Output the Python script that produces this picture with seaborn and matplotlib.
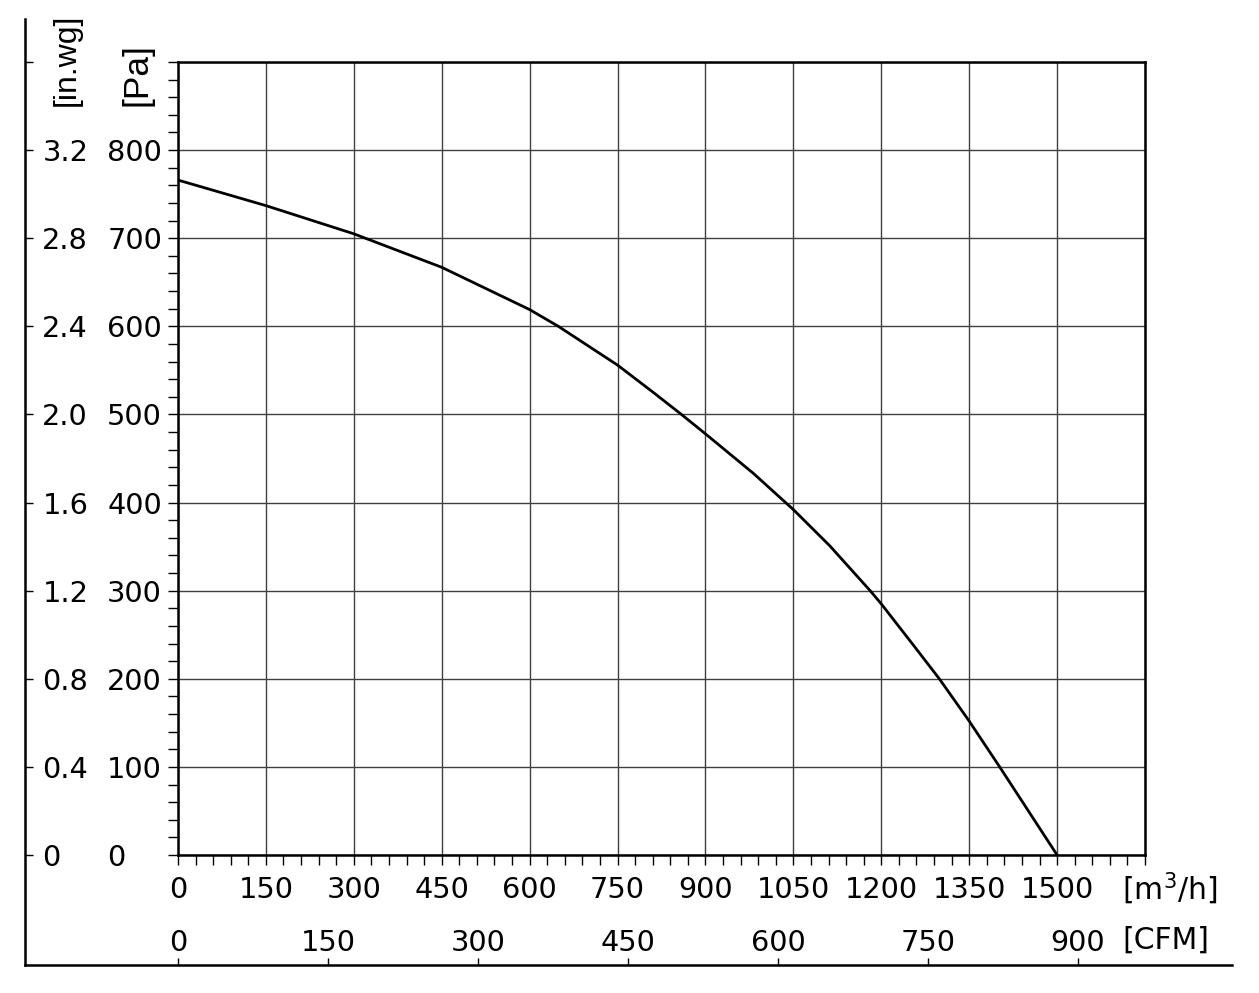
import numpy as np
import pandas as pd
from matplotlib import pyplot as plt
from matplotlib.ticker import MultipleLocator
import seaborn as sns

# fan curve
flow = [0, 150, 300, 450, 600, 649, 750, 811, 859, 900, 982, 1050, 1112,
        1181, 1200, 1255, 1299, 1350, 1402, 1500]
pressure = [766, 737, 705, 667, 619, 600, 556, 525, 500, 478, 433, 392, 351,
            300, 285, 238, 200, 152, 100, 0]

flow_ticks = list(range(0, 1651, 150))
flow_labels = [str(v) for v in flow_ticks[:-1]] + ['']
pa_ticks = list(range(0, 901, 100))
pa_labels = [str(v) for v in pa_ticks[:-1]] + ['']
inwg_ticks = [0, 0.4, 0.8, 1.2, 1.6, 2.0, 2.4, 2.8, 3.2, 3.6]
inwg_labels = ['0', '0.4', '0.8', '1.2', '1.6', '2.0', '2.4', '2.8', '3.2', '']
cfm_ticks = [0, 150, 300, 450, 600, 750, 900]
cfm_labels = [str(v) for v in cfm_ticks]

PA_PER_INWG = 250.0
M3H_PER_CFM = 1.706

sns.set_style('white')
plt.rcParams['font.family'] = ['DejaVu Sans']
plt.rcParams['text.color'] = 'black'
plt.rcParams['xtick.color'] = 'black'
plt.rcParams['ytick.color'] = 'black'
plt.rcParams['xtick.labelcolor'] = 'black'
plt.rcParams['ytick.labelcolor'] = 'black'

W, H = 1259, 993
FS = 20.7
fig = plt.figure(figsize=(W / 100, H / 100), dpi=100)

# outer frame (left and bottom lines)
frame = fig.add_axes([25 / W, 1 - 965 / H, (1232 - 25) / W, (965 - 19) / H])
frame.patch.set_visible(False)
for s in ['top', 'right']:
    frame.spines[s].set_visible(False)
for s in ['left', 'bottom']:
    frame.spines[s].set_color('black')
    frame.spines[s].set_linewidth(1.8)
frame.set_xticks([])
frame.set_yticks([])

ax = fig.add_axes([178 / W, 1 - 855 / H, 967 / W, 793 / H])
ax.patch.set_visible(False)

df = pd.DataFrame({'flow': flow, 'pressure': pressure})
sns.lineplot(data=df, x='flow', y='pressure', ax=ax, color='black', lw=2.0,
             sort=False, zorder=5)

ax.set_xlim(0, 1650)
ax.set_ylim(0, 900)
ax.set_xlabel('')
ax.set_ylabel('')

ax.set_xticks(flow_ticks, flow_labels)
ax.set_yticks(pa_ticks, pa_labels)
ax.xaxis.set_minor_locator(MultipleLocator(30))
ax.yaxis.set_minor_locator(MultipleLocator(20))
ax.grid(True, which='major', color='#404040', lw=1.0)

for s in ax.spines.values():
    s.set_color('black')
    s.set_linewidth(1.8)

ax.tick_params(which='both', direction='out', length=7.5, width=1.0, color='black',
               bottom=True, left=True, top=False, right=False)
ax.tick_params(axis='x', labelsize=FS, pad=7.5)
ax.tick_params(axis='y', labelsize=FS, pad=43.5)
for lab in ax.get_yticklabels():
    lab.set_horizontalalignment('left')

# in.wg scale on the outer left line
sec_y = ax.secondary_yaxis(-153 / 967, functions=(lambda p: p / PA_PER_INWG,
                                                  lambda w: w * PA_PER_INWG))
sec_y.set_alignment('right')
sec_y.set_yticks(inwg_ticks, inwg_labels)
sec_y.tick_params(direction='out', length=5.5, width=1.0, color='black',
                  labelsize=FS, pad=7)
for s in sec_y.spines.values():
    s.set_visible(False)

# CFM scale on the outer bottom line
sec_x = ax.secondary_xaxis(-110 / 793, functions=(lambda q: q / M3H_PER_CFM,
                                                  lambda c: c * M3H_PER_CFM))
sec_x.set_alignment('top')
sec_x.set_xticks(cfm_ticks, cfm_labels)
sec_x.tick_params(direction='out', length=5, width=1.0, color='black',
                  labelsize=FS, pad=1)
for s in sec_x.spines.values():
    s.set_visible(False)

# unit labels
ax.text((1122 - 178) / 967, -(889 - 855) / 793, '[m$^{3}$/h]', transform=ax.transAxes,
        ha='left', va='center', fontsize=21.5)
ax.text((1122 - 178) / 967, -(940 - 855) / 793, '[CFM]', transform=ax.transAxes,
        ha='left', va='center', fontsize=21.5)
fig.text(67 / W, 1 - 106 / H, '[in.wg]', rotation=90, ha='center', va='bottom',
         fontsize=23, family=['Liberation Sans', 'DejaVu Sans'])
fig.text(137 / W, 1 - 106 / H, '[Pa]', rotation=90, ha='center', va='bottom',
         fontsize=25.5, family=['Liberation Sans', 'DejaVu Sans'])

fig.savefig('out.png', dpi=100)
